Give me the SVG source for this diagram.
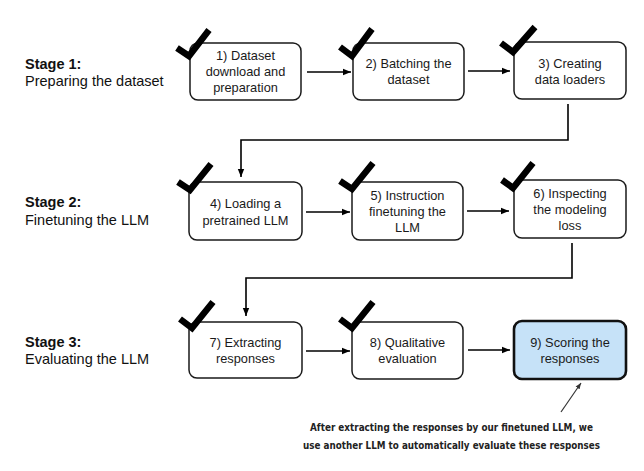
<svg xmlns="http://www.w3.org/2000/svg" width="644" height="471" viewBox="0 0 644 471">
<defs>
<style>
.box{fill:#fff;stroke:#1a1a1a;stroke-width:1.5}
.hl{fill:#c6e2f8;stroke:#111;stroke-width:2.6}
.t{font-family:"Liberation Sans",Arial,sans-serif;font-size:12.8px;fill:#1a1a1a;text-anchor:middle}
.st{font-family:"Liberation Sans",Arial,sans-serif;font-size:14.5px;fill:#111}
.stb{font-weight:bold}
.ck{fill:none;stroke:#000;stroke-width:6.5;stroke-linejoin:miter;stroke-linecap:butt}
.cn{fill:none;stroke:#000;stroke-width:1.6}
.an{font-family:"DejaVu Sans Condensed","DejaVu Sans",sans-serif;font-weight:bold;font-size:10.5px;fill:#222;text-anchor:middle}
</style>
<marker id="ah" viewBox="0 0 10 10" refX="10" refY="5" markerWidth="5.5" markerHeight="5.5" orient="auto" markerUnits="userSpaceOnUse"><path d="M0,0 L10,5 L0,10 z" fill="#000"/></marker>
<marker id="ah2" viewBox="0 0 10 10" refX="10" refY="5" markerWidth="8" markerHeight="8" orient="auto" markerUnits="userSpaceOnUse"><path d="M0,1 L10,5 L0,9 z" fill="#000"/></marker>
<marker id="ah3" viewBox="0 0 10 10" refX="10" refY="5" markerWidth="6" markerHeight="6" orient="auto" markerUnits="userSpaceOnUse"><path d="M0,1 L10,5 L0,9 z" fill="#333"/></marker>
</defs>
<rect width="644" height="471" fill="#fff"/>

<g id="stage-labels">
<text class="st stb" x="25" y="69">Stage 1:</text>
<text class="st" x="25" y="86">Preparing the dataset</text>
<text class="st stb" x="25" y="207">Stage 2:</text>
<text class="st" x="25" y="225">Finetuning the LLM</text>
<text class="st stb" x="25" y="347">Stage 3:</text>
<text class="st" x="25" y="364">Evaluating the LLM</text>
</g>

<g id="connectors">
<line class="cn" x1="307" y1="72" x2="351" y2="72" marker-end="url(#ah2)"/>
<line class="cn" x1="468" y1="71" x2="510" y2="71" marker-end="url(#ah2)"/>
<polyline class="cn" points="568,104 568,140 241,140 241,177" marker-end="url(#ah2)"/>
<line class="cn" x1="306" y1="212" x2="350" y2="212" marker-end="url(#ah2)"/>
<line class="cn" x1="467" y1="211" x2="509" y2="211" marker-end="url(#ah2)"/>
<polyline class="cn" points="572,243 572,278 246,278 246,316" marker-end="url(#ah2)"/>
<line class="cn" x1="306" y1="351" x2="350" y2="351" marker-end="url(#ah2)"/>
<line class="cn" x1="468" y1="350" x2="510" y2="350" marker-end="url(#ah2)"/>
<line x1="561" y1="412" x2="581" y2="383" stroke="#333" stroke-width="1.2" marker-end="url(#ah3)"/>
</g>

<g id="node1">
<rect class="box" x="190" y="43" width="111" height="57" rx="8"/>
<text class="t" x="245.5" y="60">1) Dataset</text>
<text class="t" x="245.5" y="76">download and</text>
<text class="t" x="245.5" y="92">preparation</text>
<path class="ck" d="M177,48 L189,56 L209,30"/>
</g>
<g id="node2">
<rect class="box" x="353" y="43" width="111" height="57" rx="8"/>
<text class="t" x="408.5" y="68">2) Batching the</text>
<text class="t" x="408.5" y="84">dataset</text>
<path class="ck" d="M340,47 L352,56 L372,29"/>
</g>
<g id="node3">
<rect class="box" x="514" y="42" width="112" height="57" rx="8"/>
<text class="t" x="570" y="68">3) Creating</text>
<text class="t" x="570" y="84">data loaders</text>
<path class="ck" d="M501,43 L513,52 L535,27"/>
</g>
<g id="node4">
<rect class="box" x="189" y="182" width="113" height="58" rx="8"/>
<text class="t" x="245.5" y="208">4) Loading a</text>
<text class="t" x="245.5" y="225">pretrained LLM</text>
<path class="ck" d="M178,182 L190,190 L211,164"/>
</g>
<g id="node5">
<rect class="box" x="352" y="182" width="111" height="58" rx="8"/>
<text class="t" x="407.5" y="200">5) Instruction</text>
<text class="t" x="407.5" y="216">finetuning the</text>
<text class="t" x="407.5" y="232">LLM</text>
<path class="ck" d="M340,181 L352,189 L373,163"/>
</g>
<g id="node6">
<rect class="box" x="514" y="180" width="112" height="58" rx="8"/>
<text class="t" x="570" y="198">6) Inspecting</text>
<text class="t" x="570" y="214">the modeling</text>
<text class="t" x="570" y="230">loss</text>
<path class="ck" d="M502,180 L513,188 L533,163"/>
</g>
<g id="node7">
<rect class="box" x="189" y="322" width="113" height="56" rx="8"/>
<text class="t" x="245.5" y="347">7) Extracting</text>
<text class="t" x="245.5" y="363">responses</text>
<path class="ck" d="M180,319 L192,328 L213,302"/>
</g>
<g id="node8">
<rect class="box" x="352" y="322" width="111" height="57" rx="8"/>
<text class="t" x="407.5" y="347">8) Qualitative</text>
<text class="t" x="407.5" y="363">evaluation</text>
<path class="ck" d="M340,319 L352,328 L373,302"/>
</g>
<g id="node9">
<rect class="hl" x="514" y="321" width="112" height="58" rx="8"/>
<text class="t" x="570" y="347">9) Scoring the</text>
<text class="t" x="570" y="363">responses</text>
</g>

<g id="annotation">
<text class="an" x="451.5" y="431" textLength="283" lengthAdjust="spacingAndGlyphs">After extracting the responses by our finetuned LLM, we</text>
<text class="an" x="451.5" y="449" textLength="297" lengthAdjust="spacingAndGlyphs">use another LLM to automatically evaluate these responses</text>
</g>
</svg>
